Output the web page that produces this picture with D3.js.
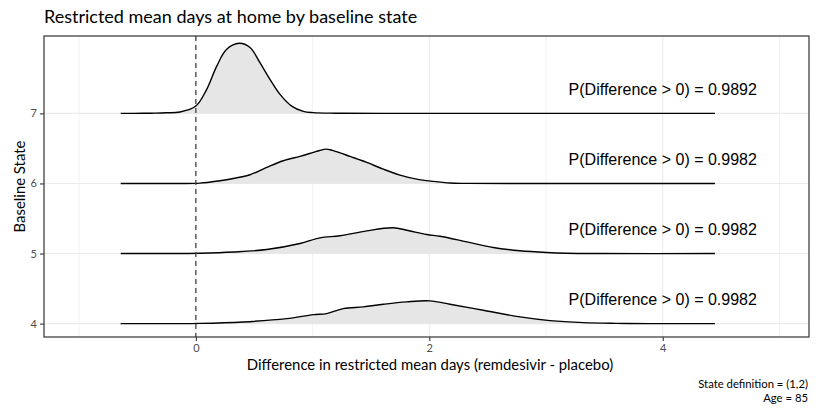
<!DOCTYPE html>
<html>
<head>
<meta charset="utf-8">
<script src="https://cdn.jsdelivr.net/npm/d3@7"></script>
<style>
  html, body { margin: 0; padding: 0; background: #ffffff; }
  svg { display: block; }
</style>
</head>
<body>
<div id="chart"></div>
<script>
// Baseline states, drawn top to bottom
const states = [7, 6, 5, 4];

// Posterior densities of the difference (scaled ridge heights, 1 = one state step)
const ridge7X = [-0.644, -0.45, -0.35, -0.25, -0.136, 0, 0.093, 0.178, 0.264, 0.372, 0.464, 0.549, 0.635, 0.721, 0.821, 0.920, 1.006, 1.2, 1.6, 4.447];
const ridge7D = [0, 0.001, 0.003, 0.008, 0.019, 0.105, 0.343, 0.671, 0.914, 1.0, 0.939, 0.724, 0.486, 0.271, 0.104, 0.029, 0.010, 0.002, 0, 0];

const ridge6X = [-0.644, -0.2, 0.035, 0.207, 0.320, 0.464, 0.607, 0.749, 0.892, 1.006, 1.06, 1.115, 1.17, 1.230, 1.321, 1.464, 1.606, 1.749, 1.892, 2.034, 2.177, 2.320, 4.447];
const ridge6D = [0, 0, 0.004, 0.039, 0.071, 0.124, 0.229, 0.324, 0.386, 0.443, 0.470, 0.490, 0.472, 0.440, 0.386, 0.300, 0.204, 0.119, 0.061, 0.029, 0.006, 0.001, 0];

const ridge5X = [-0.644, -0.2, 0.035, 0.320, 0.607, 0.892, 1.063, 1.235, 1.464, 1.691, 1.806, 1.978, 2.092, 2.320, 2.548, 2.777, 3.006, 3.177, 3.46, 4.447];
const ridge5D = [0, 0, 0.005, 0.022, 0.057, 0.143, 0.224, 0.253, 0.324, 0.367, 0.333, 0.271, 0.247, 0.167, 0.086, 0.039, 0.014, 0.004, 0, 0];

const ridge4X = [-0.644, -0.2, 0.035, 0.406, 0.778, 1.006, 1.121, 1.263, 1.434, 1.606, 1.806, 2.006, 2.177, 2.463, 2.777, 3.034, 3.320, 3.606, 3.89, 4.447];
const ridge4D = [0, 0, 0.003, 0.024, 0.071, 0.129, 0.143, 0.214, 0.239, 0.276, 0.310, 0.324, 0.276, 0.190, 0.096, 0.043, 0.014, 0.004, 0, 0];

// Posterior probability that the difference is positive
const probLabels = ["0.9892", "0.9982", "0.9982", "0.9982"];

// Axis ticks
const xMajorTicks = [0, 2, 4];
const xMinorTicks = [-1, 1, 3, 5];

const titleText = "Restricted mean days at home by baseline state";
const xTitle = "Difference in restricted mean days (remdesivir - placebo)";
const yTitle = "Baseline State";
const captionLines = ["State definition = (1,2)", "Age = 85"];

const ridges = [
  { state: 7, xs: ridge7X, ds: ridge7D },
  { state: 6, xs: ridge6X, ds: ridge6D },
  { state: 5, xs: ridge5X, ds: ridge5D },
  { state: 4, xs: ridge4X, ds: ridge4D }
];

const W = 816, H = 411;
const panel = { left: 44, right: 809, top: 36, bottom: 337 };
const uiFont = "Lato, 'Noto Sans', sans-serif";

const svg = d3.select("#chart").append("svg")
  .attr("width", W).attr("height", H);

svg.append("rect").attr("width", W).attr("height", H).attr("fill", "#ffffff");

const x = d3.scaleLinear().domain([-1.301, 5.253]).range([panel.left, panel.right]);
const y = d3.scaleLinear().domain([3.809, 8.104]).range([panel.bottom, panel.top]);

const g = svg.append("g");

// Grid
g.selectAll(".vminor").data(xMinorTicks).join("line")
  .attr("x1", d => x(d)).attr("x2", d => x(d))
  .attr("y1", panel.top).attr("y2", panel.bottom)
  .attr("stroke", "#ebebeb").attr("stroke-width", 0.6);
g.selectAll(".vmajor").data(xMajorTicks).join("line")
  .attr("x1", d => x(d)).attr("x2", d => x(d))
  .attr("y1", panel.top).attr("y2", panel.bottom)
  .attr("stroke", "#ebebeb").attr("stroke-width", 1.1);
g.selectAll(".hmajor").data(states).join("line")
  .attr("x1", panel.left).attr("x2", panel.right)
  .attr("y1", d => y(d)).attr("y2", d => y(d))
  .attr("stroke", "#ebebeb").attr("stroke-width", 1.1);

// Ridges
const curve = d3.curveCatmullRom.alpha(0.5);
const area = d3.area()
  .x(p => x(p[0]))
  .y0(p => y(p[2]))
  .y1(p => y(p[2] + Math.max(0, p[1])))
  .curve(curve);
const line = d3.line()
  .x(p => x(p[0]))
  .y(p => y(p[2] + p[1]))
  .curve(curve);

ridges.forEach(r => {
  const pts = r.xs.map((v, i) => [v, r.ds[i], r.state]);
  g.append("path").attr("d", area(pts)).attr("fill", "#e6e6e6");
  g.append("path").attr("d", line(pts)).attr("fill", "none")
    .attr("stroke", "#000000").attr("stroke-width", 1.4);
});

// Reference line at zero difference
g.append("line")
  .attr("x1", x(0)).attr("x2", x(0))
  .attr("y1", panel.top).attr("y2", panel.bottom)
  .attr("stroke", "#444444").attr("stroke-width", 1.3)
  .attr("stroke-dasharray", "5,4");

// Probability annotations
g.selectAll(".prob").data(states).join("text")
  .attr("x", x(4))
  .attr("y", (d) => y(d + 0.35) + 6)
  .attr("text-anchor", "middle")
  .attr("font-family", "'Liberation Sans', Arial, sans-serif")
  .attr("font-size", 16)
  .attr("fill", "#000000")
  .text((d, i) => "P(Difference > 0) = " + probLabels[i]);

// Panel border
svg.append("rect")
  .attr("x", panel.left).attr("y", panel.top)
  .attr("width", panel.right - panel.left).attr("height", panel.bottom - panel.top)
  .attr("fill", "none").attr("stroke", "#333333").attr("stroke-width", 1.2);

// Axes
const xAxis = d3.axisBottom(x).tickValues(xMajorTicks).tickSize(4).tickPadding(3).tickFormat(d3.format("d"));
const xg = svg.append("g").attr("transform", `translate(0,${panel.bottom})`).call(xAxis);
const yAxis = d3.axisLeft(y).tickValues(states).tickSize(4).tickPadding(3).tickFormat(d3.format("d"));
const yg = svg.append("g").attr("transform", `translate(${panel.left},0)`).call(yAxis);
[xg, yg].forEach(a => {
  a.select(".domain").remove();
  a.selectAll(".tick line").attr("stroke", "#333333").attr("stroke-width", 1.1);
  a.selectAll(".tick text").attr("fill", "#4d4d4d")
    .attr("font-family", uiFont).attr("font-size", 11);
});

// Titles
svg.append("text").attr("x", panel.left).attr("y", 23)
  .attr("font-family", uiFont).attr("font-size", 18).attr("fill", "#000000")
  .text(titleText);

svg.append("text").attr("x", 430).attr("y", 370)
  .attr("text-anchor", "middle")
  .attr("font-family", uiFont).attr("font-size", 14.9).attr("fill", "#000000")
  .text(xTitle);

svg.append("text")
  .attr("transform", `translate(25,${(panel.top + panel.bottom) / 2}) rotate(-90)`)
  .attr("text-anchor", "middle")
  .attr("font-family", uiFont).attr("font-size", 14.9).attr("fill", "#000000")
  .text(yTitle);

svg.selectAll(".caption").data(captionLines).join("text")
  .attr("x", 808).attr("y", (d, i) => 388 + i * 13.5)
  .attr("text-anchor", "end")
  .attr("font-family", uiFont).attr("font-size", 11.3).attr("fill", "#000000")
  .text(d => d);
</script>
</body>
</html>
